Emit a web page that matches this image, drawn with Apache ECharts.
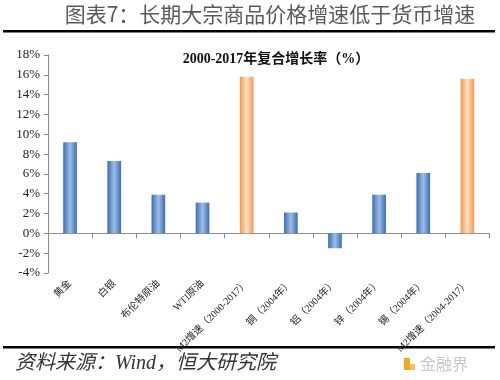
<!DOCTYPE html>
<html><head><meta charset="utf-8">
<script src="https://cdn.jsdelivr.net/npm/echarts@6/dist/echarts.min.js"></script>
<style>html,body{margin:0;padding:0;background:#fff}#c{width:500px;height:380px}</style>
</head><body><div id="c"></div>
<script>
const categories = ['黄金','白银','布伦特原油','WTI原油','M2增速（2000-2017）','铜（2004年）','铝（2004年）','锌（2004年）','锡（2004年）','M2增速（2004-2017）'];
const values = [9.2, 7.3, 3.9, 3.1, 15.8, 2.1, -1.5, 3.9, 6.1, 15.6];
const isM2 = [false,false,false,false,true,false,false,false,false,true];
const yTicks = {min:-4, max:18, interval:2};
const titleText = '图表7：长期大宗商品价格增速低于货币增速';
const subTitle = '2000-2017年复合增长率（%）';
const sourceText = '资料来源：Wind，恒大研究院';

const serif = '"Liberation Serif","Noto Sans CJK SC",serif';
const blue = {type:'linear',x:0,y:0,x2:1,y2:0,colorStops:[{offset:0,color:'#3b6db3'},{offset:0.5,color:'#9dbde6'},{offset:1,color:'#3b6db3'}]};
const orange = {type:'linear',x:0,y:0,x2:1,y2:0,colorStops:[{offset:0,color:'#f59a4e'},{offset:0.5,color:'#fde0c4'},{offset:1,color:'#f59a4e'}]};

const chart = echarts.init(document.getElementById('c'), null, {renderer:'canvas'});
chart.setOption({
  animation:false,
  backgroundColor:'#fff',
  grid:{left:48, right:10.5, top:55, bottom:107, containLabel:false},
  xAxis:{
    type:'category', data:categories,
    axisLine:{show:true, onZero:true, lineStyle:{color:'#8c8c8c', width:1}},
    axisTick:{show:true, interval:0, alignWithLabel:false, length:5, lineStyle:{color:'#8c8c8c'}},
    axisLabel:{interval:0, rotate:45, fontSize:10, color:'#222', fontFamily:serif, margin:9}
  },
  yAxis:{
    type:'value', min:yTicks.min, max:yTicks.max, interval:yTicks.interval,
    axisLine:{show:true, lineStyle:{color:'#8c8c8c'}},
    axisTick:{show:true, length:4, lineStyle:{color:'#8c8c8c'}},
    splitLine:{show:false},
    axisLabel:{formatter:'{value}%', fontSize:13, color:'#222', fontFamily:serif, margin:8}
  },
  series:[{
    type:'bar', barWidth:'31%',
    data: values.map((v,i)=>({value:v, itemStyle:{color: isM2[i]?orange:blue}})),
  }],
  graphic:[
    {type:'text', x:270, y:4, style:{text:titleText, font:'21px "Noto Sans CJK SC"', fill:'#5a5a5a', textAlign:'center'}},
    {type:'rect', shape:{x:3, y:30, width:492, height:2.5}, style:{fill:'#000'}},
    {type:'text', x:276, y:52, style:{text:subTitle, font:'bold 14px '+serif, fill:'#111', textAlign:'center'}},
    {type:'rect', shape:{x:3, y:346, width:492, height:2.5}, style:{fill:'#000'}},
    {type:'text', x:15, y:354, style:{text:sourceText, font:'italic 20px '+serif, fill:'#333'}},
    {type:'rect', shape:{x:404, y:358, width:6, height:12}, style:{fill:'#f5a623'}},
    {type:'rect', shape:{x:410, y:364, width:5, height:6}, style:{fill:'#f5c060'}},
    {type:'text', x:420, y:356, style:{text:'金融界', font:'16px "Noto Sans CJK SC"', fill:'#c8c8c8'}}
  ]
});
</script></body></html>
